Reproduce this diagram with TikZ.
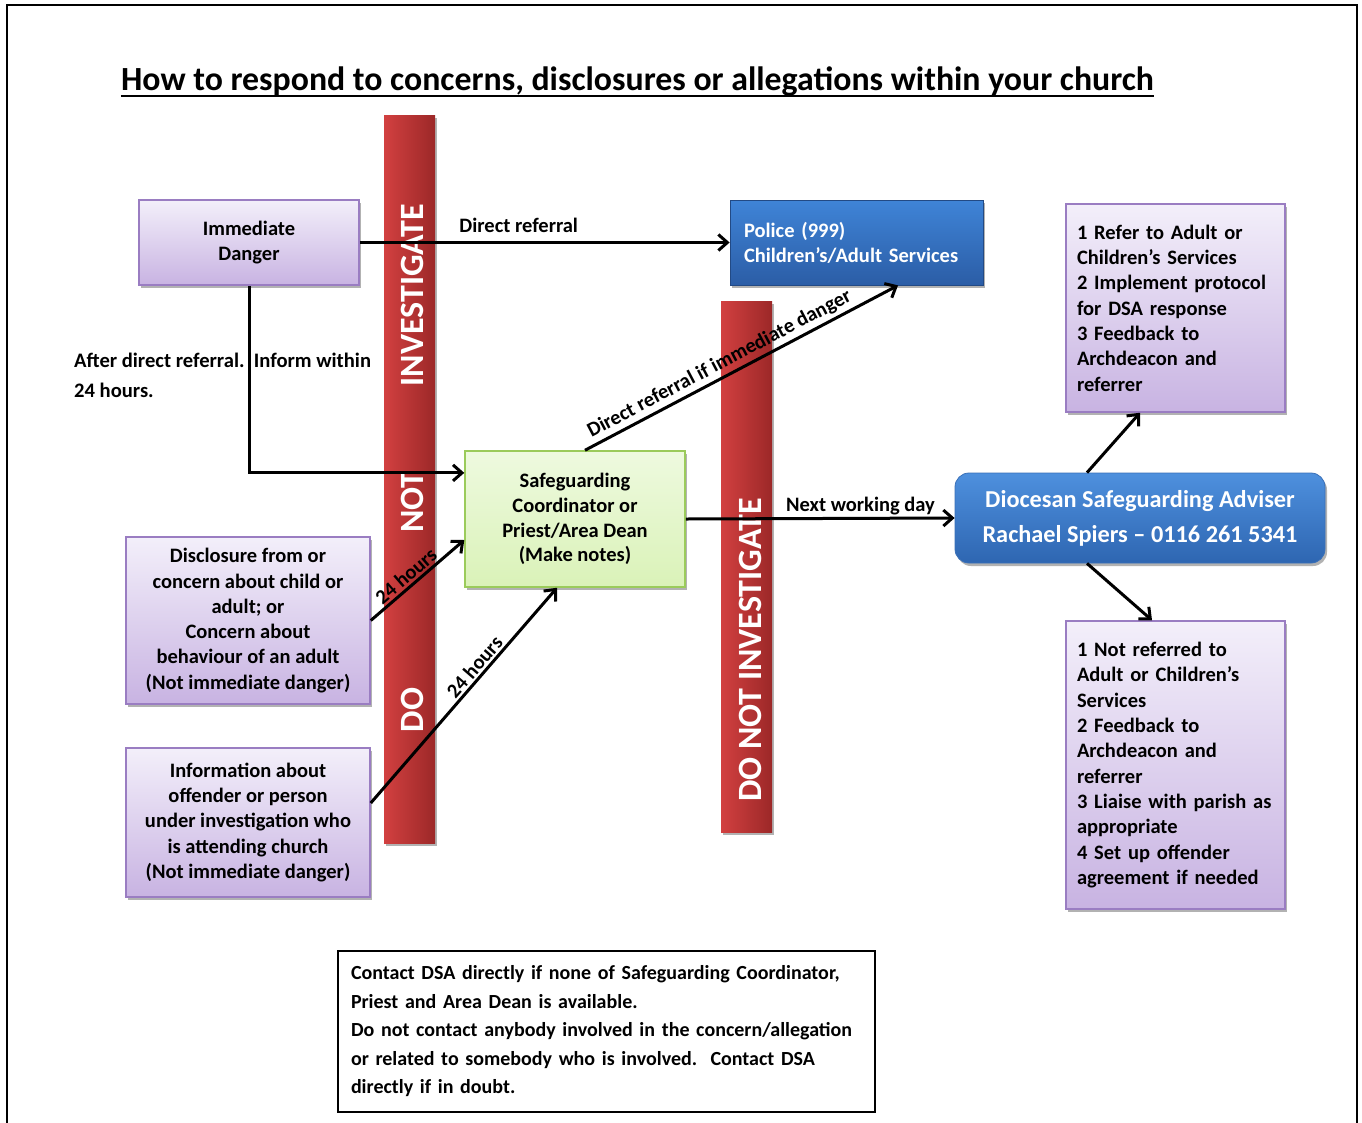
\documentclass[tikz,border=0pt]{standalone}
\usepackage{fontspec}
\setmainfont{Carlito}
\usetikzlibrary{arrows.meta,shadows,calc}
\definecolor{pTop}{HTML}{F3EFFA}
\definecolor{pBot}{HTML}{C8B3E2}
\definecolor{pBorder}{HTML}{9A7DC2}
\definecolor{bTop}{HTML}{3F84D7}
\definecolor{bBot}{HTML}{2B5DA6}
\definecolor{dTop}{HTML}{4E90DE}
\definecolor{dBot}{HTML}{2E66B1}
\definecolor{dBorder}{HTML}{3A70B8}
\definecolor{gTop}{HTML}{EEFADF}
\definecolor{gBot}{HTML}{DAF2B8}
\definecolor{gBorder}{HTML}{9BCB5B}
\definecolor{rLeft}{HTML}{D24040}
\definecolor{rRight}{HTML}{9C2828}
\begin{document}
\begin{tikzpicture}[x=1pt,y=-1pt,
  shadowed/.style={drop shadow={shadow xshift=2pt,shadow yshift=-3pt,opacity=0.3,fill=black}},
  purplebox/.style={shadowed,draw=pBorder,line width=1.5pt,top color=pTop,bottom color=pBot,
    font=\fontsize{20.5}{25.3}\selectfont\bfseries,inner sep=0pt},
  bluebox/.style={shadowed,draw=bBot!80!black,line width=0.8pt,top color=bTop,bottom color=bBot,
    text=white,font=\fontsize{20.5}{25}\selectfont\bfseries},
  greenbox/.style={shadowed,draw=gBorder,line width=1.5pt,top color=gTop,bottom color=gBot,
    font=\fontsize{20.5}{24.8}\selectfont\bfseries,inner sep=0pt},
  redbar/.style={shadowed,left color=rLeft,right color=rRight,inner sep=0pt},
  bartext/.style={text=white,font=\fontsize{34}{36}\selectfont\bfseries,rotate=90,inner sep=0pt},
  arr/.style={line width=3pt,-{Straight Barb[length=9pt,width=16pt]}},
  lbl/.style={font=\fontsize{20.5}{24}\selectfont\bfseries,inner sep=2pt}
]
\useasboundingbox (0,0) rectangle (1362,1122);
\fill[white] (0,0) rectangle (1362,1122);
% outer frame
\draw[line width=2pt] (7,1130) -- (7,5) -- (1357,5) -- (1357,1130);

% title
\node (title) [anchor=base,inner sep=0pt,font=\fontsize{33.8}{36}\selectfont\bfseries] at (637.5,90)
  {How to respond to concerns, disclosures or allegations within your church};
\draw[line width=2pt] ([yshift=-6pt]title.base west) -- ([yshift=-6pt]title.base east);

% red bars
\node (barL) [redbar,minimum width=51pt,minimum height=728pt] at (409.5,479) {};
\node (barR) [redbar,minimum width=51pt,minimum height=531pt] at (746.5,566.5) {};
\node (tInv) [bartext] at (412,295) {INVESTIGATE};
\node (tNot) [bartext] at (412,502) {NOT};
\node (tDo) [bartext] at (412,710) {DO};
\node (tDoNot) [bartext] at (750,650) {DO NOT INVESTIGATE};

% boxes
\node (idanger) [purplebox,minimum width=220pt,minimum height=85pt,align=center] at (249,242.5)
  {Immediate\\Danger};
\node (police) [bluebox,minimum width=253pt,minimum height=85pt,text width=225pt,align=left,inner xsep=14pt] at (856.5,242.5)
  {Police (999)\\Children’s/Adult Services};
\node (sg) [greenbox,minimum width=220pt,minimum height=136pt,align=center] at (575,519)
  {Safeguarding\\Coordinator or\\Priest/Area Dean\\(Make notes)};
\node (disc) [purplebox,minimum width=244pt,minimum height=167pt,align=center] at (248,620.5)
  {Disclosure from or\\concern about child or\\adult; or\\Concern about\\behaviour of an adult\\(Not immediate danger)};
\node (info) [purplebox,minimum width=244pt,minimum height=149pt,align=center] at (248,822.5)
  {Information about\\offender or person\\under investigation who\\is attending church\\(Not immediate danger)};
\node (dsa) [shadowed,draw=dBorder,line width=0.8pt,top color=dTop,bottom color=dBot,rounded corners=14pt,
  minimum width=370pt,minimum height=90pt,text=white,align=center,
  font=\fontsize{24.3}{35}\selectfont\bfseries] at (1140,518)
  {Diocesan Safeguarding Adviser\\Rachael Spiers – 0116 261 5341};
\node (topR) [purplebox,minimum width=219pt,minimum height=208pt,text width=197pt,align=left,inner xsep=11pt] at (1175.5,308)
  {1 Refer to Adult or\\Children’s Services\\2 Implement protocol\\for DSA response\\3 Feedback to\\Archdeacon and\\referrer};
\node (botR) [purplebox,minimum width=219pt,minimum height=288pt,text width=197pt,align=left,inner xsep=11pt] at (1175.5,765)
  {1 Not referred to\\Adult or Children’s\\Services\\2 Feedback to\\Archdeacon and\\referrer\\3 Liaise with parish as\\appropriate\\4 Set up offender\\agreement if needed};
\node (note) [draw=black,line width=1.5pt,fill=white,minimum width=537pt,minimum height=161pt,text width=511pt,
  align=left,inner xsep=13pt,font=\fontsize{20}{28.5}\selectfont\bfseries] at (606.5,1031.5)
  {Contact DSA directly if none of Safeguarding Coordinator,\\Priest and Area Dean is available.\\Do not contact anybody involved in the concern/allegation\\or related to somebody who is involved.\ \ Contact DSA\\directly if in doubt.};

% side text
\node (after) [anchor=west,align=left,inner sep=0pt,font=\fontsize{20.6}{30}\selectfont\bfseries] at (74,375)
  {After direct referral.\ \ Inform within\\24 hours.};

% arrows
\draw[arr] (idanger.east) -- (police.west) node (lDirect) [lbl,pos=0.43,above=6pt] {Direct referral};
\draw[arr] (idanger.south) |- ([yshift=-2pt]$(sg.north west)!0.15!(sg.south west)$);
\draw[arr] (sg.east) -- (dsa.west) node (lNext) [lbl,pos=0.65,above=0pt] {Next working day};
\draw[arr] ([xshift=10pt]sg.north) -- ([xshift=41.5pt]police.south)
  node (lIfDanger) [lbl,sloped,pos=0.45,above=1pt] {Direct referral if immediate danger};
\draw[arr] (disc.east) -- ([yshift=-21pt]sg.west) node (l24a) [lbl,sloped,pos=0.45,above=0pt] {24 hours};
\draw[arr] ([yshift=19.5pt]info.east) -- ([xshift=-18pt]sg.south) node (l24b) [lbl,sloped,pos=0.6,above=0pt] {24 hours};
\draw[arr] ([xshift=-53pt]dsa.north) -- ([xshift=-35.5pt]topR.south);
\draw[arr] ([xshift=-53pt]dsa.south) -- ([xshift=-23.5pt]botR.north);
\end{tikzpicture}
\end{document}
